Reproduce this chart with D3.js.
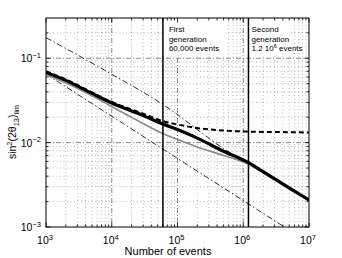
<!DOCTYPE html>
<html lang="en">
<head>
<meta charset="UTF-8">
<title>sin2(2theta13) limit vs number of events</title>
<script src="https://d3js.org/d3.v7.min.js"></script>
<style>
  body { margin: 0; background: #fff; }
  text { font-family: "Liberation Sans", Arial, sans-serif; fill: #000; }
</style>
</head>
<body>
<script>
// values
var events = [1e3, 2e3, 5e3, 1e4, 2e4, 3e4, 6e4, 1e5, 2e5, 5e5, 1.2e6, 2e6, 5e6, 1e7];
var thickBlack = [0.068, 0.0547, 0.0383, 0.0295, 0.0237, 0.0209, 0.0166, 0.0143, 0.0113, 0.0079, 0.00578, 0.00452, 0.00291, 0.00209];
var grayLine = [0.0646, 0.0511, 0.0358, 0.0268, 0.0199, 0.01683, 0.0128, 0.01086, 0.00889, 0.00705, 0.00554, 0.0044, 0.00283, 0.00204];
var dashedLine = [0.0700, 0.0562, 0.0394, 0.0303, 0.0247, 0.0221, 0.0180, 0.0164, 0.0149, 0.0139, 0.01352, 0.0134, 0.0133, 0.0132];
var upperEvents = [1e3, 1e4, 6e4, 1e5, 2e5, 5e5, 1e6, 1.2e6];
var upperDashDot = [0.1754, 0.0646, 0.02828, 0.02153, 0.0143, 0.00851, 0.00625, 0.0058];
var lowerEvents = [1e3, 1e7];
var lowerDashDot = [0.065, 0.00065];
var generations = [6e4, 1.2e6];
var xTickExp = [3, 4, 5, 6, 7];
var yTickExp = [-1, -2, -3];

var width = 342, height = 258;
var pL = 46, pR = 309, pT = 18, pB = 227;

var svg = d3.select('body').append('svg')
    .attr('width', width)
    .attr('height', height);

var x = d3.scaleLog().domain([1e3, 1e7]).range([pL, pR]);
var y = d3.scaleLog().domain([1e-3, 0.3]).range([pB, pT]);

svg.append('clipPath').attr('id', 'plot')
    .append('rect').attr('x', pL).attr('y', pT)
    .attr('width', pR - pL).attr('height', pB - pT);

// minor + major positions
var xMinor = [], yMinor = [];
for (var e = 3; e < 7; e++) {
    for (var k = 2; k <= 9; k++) xMinor.push(k * Math.pow(10, e));
}
for (var e2 = -3; e2 < 0; e2++) {
    for (var k2 = 2; k2 <= 9; k2++) {
        var v = k2 * Math.pow(10, e2);
        if (v <= 0.3) yMinor.push(v);
    }
}
var xMajor = xTickExp.map(function (d) { return Math.pow(10, d); });
var yMajor = yTickExp.map(function (d) { return Math.pow(10, d); });

var grid = svg.append('g');
grid.selectAll('line.xmin').data(xMinor).enter().append('line')
    .attr('x1', d => x(d)).attr('x2', d => x(d))
    .attr('y1', pT).attr('y2', pB)
    .attr('stroke', '#9a9a9a').attr('stroke-width', 0.7)
    .attr('stroke-dasharray', '1,2.5');
grid.selectAll('line.ymin').data(yMinor).enter().append('line')
    .attr('y1', d => y(d)).attr('y2', d => y(d))
    .attr('x1', pL).attr('x2', pR)
    .attr('stroke', '#9a9a9a').attr('stroke-width', 0.7)
    .attr('stroke-dasharray', '1,2.5');
grid.selectAll('line.xmaj').data(xMajor.slice(1, 4)).enter().append('line')
    .attr('x1', d => x(d)).attr('x2', d => x(d))
    .attr('y1', pT).attr('y2', pB)
    .attr('stroke', '#7a7a7a').attr('stroke-width', 0.9)
    .attr('stroke-dasharray', '5,2,1,2');
grid.selectAll('line.ymaj').data(yMajor.slice(0, 2)).enter().append('line')
    .attr('y1', d => y(d)).attr('y2', d => y(d))
    .attr('x1', pL).attr('x2', pR)
    .attr('stroke', '#7a7a7a').attr('stroke-width', 0.9)
    .attr('stroke-dasharray', '5,2,1,2');

// white boxes behind the two notes
svg.append('rect').attr('x', x(generations[0])).attr('y', pT)
    .attr('width', 62).attr('height', 38).attr('fill', '#fff');
svg.append('rect').attr('x', x(generations[1])).attr('y', pT)
    .attr('width', 42).attr('height', 38).attr('fill', '#fff');

var line = d3.line().curve(d3.curveMonotoneX)
    .x(d => x(d[0])).y(d => y(d[1]));
var plot = svg.append('g').attr('clip-path', 'url(#plot)');

function pairs(xs, ys) { return xs.map(function (d, i) { return [d, ys[i]]; }); }

plot.append('path').datum(pairs(lowerEvents, lowerDashDot))
    .attr('d', d3.line().x(d => x(d[0])).y(d => y(d[1])))
    .attr('fill', 'none').attr('stroke', '#000').attr('stroke-width', 0.8)
    .attr('stroke-dasharray', '6,2.5,1.5,2.5');
plot.append('path').datum(pairs(upperEvents, upperDashDot))
    .attr('d', line)
    .attr('fill', 'none').attr('stroke', '#000').attr('stroke-width', 0.8)
    .attr('stroke-dasharray', '6,2.5,1.5,2.5');
plot.append('path').datum(pairs(events, grayLine))
    .attr('d', line)
    .attr('fill', 'none').attr('stroke', '#8a8a8a').attr('stroke-width', 1.6);
plot.append('path').datum(pairs(events, dashedLine))
    .attr('d', line)
    .attr('fill', 'none').attr('stroke', '#000').attr('stroke-width', 2)
    .attr('stroke-dasharray', '5,3');
plot.append('path').datum(pairs(events, thickBlack))
    .attr('d', line)
    .attr('fill', 'none').attr('stroke', '#000').attr('stroke-width', 3.2);

// generation markers
svg.selectAll('line.gen').data(generations).enter().append('line')
    .attr('x1', d => x(d)).attr('x2', d => x(d))
    .attr('y1', pT).attr('y2', pB)
    .attr('stroke', '#000').attr('stroke-width', 1.5);

// ticks inside on all four sides
var ticks = svg.append('g').attr('stroke', '#000').attr('stroke-width', 0.8);
function xt(data, len) {
    data.forEach(function (d) {
        ticks.append('line').attr('x1', x(d)).attr('x2', x(d)).attr('y1', pB).attr('y2', pB - len);
        ticks.append('line').attr('x1', x(d)).attr('x2', x(d)).attr('y1', pT).attr('y2', pT + len);
    });
}
function yt(data, len) {
    data.forEach(function (d) {
        ticks.append('line').attr('y1', y(d)).attr('y2', y(d)).attr('x1', pL).attr('x2', pL + len);
        ticks.append('line').attr('y1', y(d)).attr('y2', y(d)).attr('x1', pR).attr('x2', pR - len);
    });
}
xt(xMinor, 2.5); xt(xMajor, 4.5);
yt(yMinor, 2.5); yt(yMajor, 4.5);

svg.append('rect').attr('x', pL).attr('y', pT)
    .attr('width', pR - pL).attr('height', pB - pT)
    .attr('fill', 'none').attr('stroke', '#000').attr('stroke-width', 1);

// tick labels
svg.selectAll('text.xl').data(xTickExp).enter().append('text')
    .attr('x', d => x(Math.pow(10, d)) - 1).attr('y', 244)
    .attr('text-anchor', 'middle').attr('font-size', 10.5)
    .each(function (d) {
        var t = d3.select(this);
        t.append('tspan').text('10');
        t.append('tspan').attr('font-size', 7.5).attr('dy', -4.5).text(d);
    });
svg.selectAll('text.yl').data(yTickExp).enter().append('text')
    .attr('x', 41).attr('y', d => y(Math.pow(10, d)) + 4)
    .attr('text-anchor', 'end').attr('font-size', 10.5)
    .each(function (d) {
        var t = d3.select(this);
        t.append('tspan').text('10');
        t.append('tspan').attr('font-size', 7.5).attr('dy', -4.5).text('\u2212' + (-d));
    });

// axis labels
svg.append('text').attr('x', 168).attr('y', 255)
    .attr('text-anchor', 'middle').attr('font-size', 11)
    .text('Number of events');
var yl = svg.append('text').attr('transform', 'translate(16,132) rotate(-90)')
    .attr('text-anchor', 'middle').attr('font-size', 10.5);
yl.append('tspan').text('sin');
yl.append('tspan').attr('font-size', 7.5).attr('dy', -4.5).text('2');
yl.append('tspan').attr('dy', 4.5).text('(2\u03b8');
yl.append('tspan').attr('font-size', 7.5).attr('dy', 3).text('13');
yl.append('tspan').attr('dy', -3).text(')');
yl.append('tspan').attr('font-size', 7.5).attr('dy', 3).text('lim');

// annotations
var note1 = ['First', 'generation', '60,000 events'];
note1.forEach(function (s, i) {
    svg.append('text').attr('x', x(generations[0]) + 6).attr('y', 32 + i * 9.5)
        .attr('font-size', 8).text(s);
});
['Second', 'generation'].forEach(function (s, i) {
    svg.append('text').attr('x', x(generations[1]) + 3).attr('y', 32 + i * 9.5)
        .attr('font-size', 8).text(s);
});
var n2 = svg.append('text').attr('x', x(generations[1]) + 3).attr('y', 51).attr('font-size', 8);
n2.append('tspan').text('1.2 10');
n2.append('tspan').attr('font-size', 5.5).attr('dy', -3.5).text('6');
n2.append('tspan').attr('dy', 3.5).text(' events');
</script>
</body>
</html>
